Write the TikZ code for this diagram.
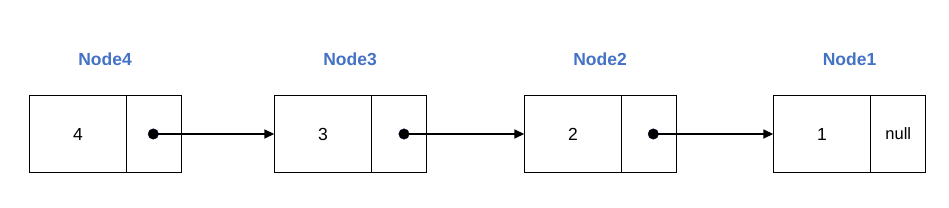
\documentclass[tikz,border=0pt]{standalone}
\usepackage{fontspec}
\setmainfont{Liberation Sans}
\usetikzlibrary{arrows.meta}
\definecolor{labelblue}{RGB}{68,114,196}
\begin{document}
\begin{tikzpicture}[x=1pt,y=-1pt,
  datapart/.style={draw=black,line width=1pt,minimum width=97.4pt,minimum height=76.6pt,inner sep=0pt,outer sep=0pt,font=\fontsize{17.5}{20}\selectfont},
  nextpart/.style={draw=black,line width=1pt,minimum width=55.2pt,minimum height=76.6pt,inner sep=0pt,outer sep=0pt,font=\fontsize{16.5}{19}\selectfont},
  title/.style={text=labelblue,font=\fontsize{17.5}{20}\selectfont\bfseries,inner sep=0pt},
  ptrdot/.style={circle,fill=black,draw=black!80!blue,minimum size=10.5pt,inner sep=0pt},
  ptr/.style={line width=1.5pt,-{Triangle[length=10pt,width=9pt]}}
]
\useasboundingbox (0,0) rectangle (949,208);
% Node4
\node[datapart] (d4) at (78.0,134) {4};
\node[nextpart] (n4) at (154.3,134) {};
\node[title] (t4) at (105,59) {Node4};
\coordinate (c4) at (153.3,134);
% Node3
\node[datapart] (d3) at (323.0,134) {3};
\node[nextpart] (n3) at (399.3,134) {};
\node[title] (t3) at (350,59) {Node3};
\coordinate (c3) at (404,134);
% Node2
\node[datapart] (d2) at (573.0,134) {2};
\node[nextpart] (n2) at (649.3,134) {};
\node[title] (t2) at (600,59) {Node2};
\coordinate (c2) at (653.3,134);
% Node1
\node[datapart] (d1) at (822.0,134) {1};
\node[nextpart] (n1) at (898.3,134) {null};
\node[title] (t1) at (849.5,59) {Node1};
% pointers
\draw[ptr] (c4) -- (d3.west);
\draw[ptr] (c3) -- (d2.west);
\draw[ptr] (c2) -- (d1.west);
\node[ptrdot] (p4) at (c4) {};
\node[ptrdot] (p3) at (c3) {};
\node[ptrdot] (p2) at (c2) {};
\end{tikzpicture}
\end{document}
